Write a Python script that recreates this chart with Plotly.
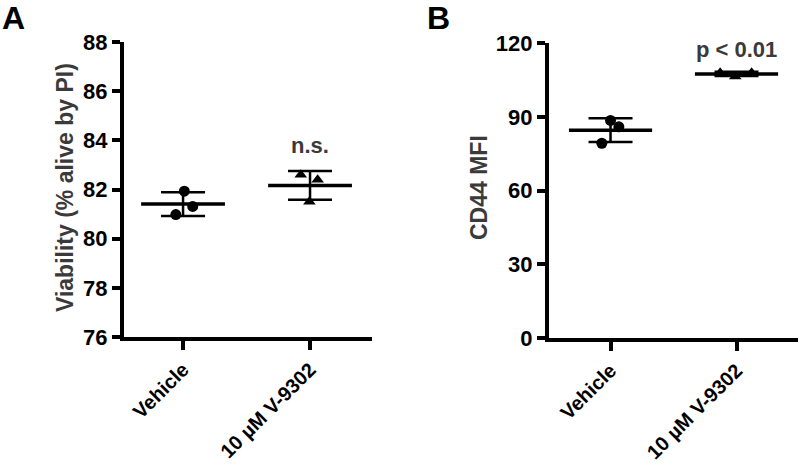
import numpy as np
import plotly.graph_objects as go

categories = ["Vehicle", "10 µM V-9302"]

# Panel A: viability (% alive by PI)
viab_vehicle = [81.93, 81.31, 80.98]
viab_v9302 = [82.60, 82.40, 81.50]

# Panel B: CD44 MFI
cd44_vehicle = [88.6, 86.0, 79.3]
cd44_v9302 = [108.0, 106.5, 108.0]

yticks_a = [76, 78, 80, 82, 84, 86, 88]
yticks_b = [0, 30, 60, 90, 120]

# horizontal jitter of replicate points (category units)
jit_a = [[0.01, 0.076, -0.057], [-0.073, 0.06, -0.005]]
jit_b = [[0.0, 0.066, -0.069], [-0.13, -0.01, 0.12]]

symbols = ["circle", "triangle-up"]
fig = go.Figure()


def add_panel(groups, jit, xa, ya):
    for i, vals in enumerate(groups):
        vals = np.array(vals)
        m = vals.mean()
        sd = vals.std(ddof=1)
        # mean line
        fig.add_trace(go.Scatter(x=[i - 0.33, i + 0.33], y=[m, m], mode="lines",
                                 line=dict(color="black", width=3.5),
                                 xaxis=xa, yaxis=ya, showlegend=False, hoverinfo="skip"))
        # SD error bar
        fig.add_trace(go.Scatter(x=[i], y=[m], mode="markers",
                                 marker=dict(size=1, color="rgba(0,0,0,0)"),
                                 error_y=dict(type="data", array=[sd], visible=True,
                                              color="black", thickness=2.5, width=22),
                                 xaxis=xa, yaxis=ya, showlegend=False, hoverinfo="skip"))
        # replicate points
        fig.add_trace(go.Scatter(x=[i + j for j in jit[i]], y=vals, mode="markers",
                                 marker=dict(symbol=symbols[i], size=11, color="black"),
                                 xaxis=xa, yaxis=ya, showlegend=False))


add_panel([viab_vehicle, viab_v9302], jit_a, "x", "y")
add_panel([cd44_vehicle, cd44_v9302], jit_b, "x2", "y2")

FONT = "Liberation Sans, Arial, sans-serif"
tickfont = dict(family=FONT, size=22, color="black", weight="bold")
xtickfont = dict(family=FONT, size=20, color="black", weight="bold")
xcommon = dict(tickmode="array", tickvals=[0, 1], ticktext=categories, tickangle=-45,
               showline=True, linecolor="black", linewidth=4, ticks="outside",
               ticklen=9, tickwidth=4, tickcolor="black", showgrid=False, zeroline=False,
               tickfont=xtickfont, automargin=False)
ycommon = dict(showline=True, linecolor="black", linewidth=4, ticks="outside",
               ticklen=8, tickwidth=4, tickcolor="black", showgrid=False, zeroline=False,
               tickfont=tickfont, tickmode="array", automargin=False)

fig.update_layout(
    width=800, height=464,
    margin=dict(l=0, r=0, t=0, b=0, pad=0, autoexpand=False),
    paper_bgcolor="white", plot_bgcolor="white",
    font=dict(family=FONT),
    xaxis=dict(domain=[0.155, 0.465], range=[-0.465, 1.488], anchor="y", **xcommon),
    yaxis=dict(domain=[0.2737, 0.9095], range=[76, 88], anchor="x", tickvals=yticks_a,
               ticktext=[str(v) for v in yticks_a], **ycommon),
    xaxis2=dict(domain=[0.686, 0.9975], range=[-0.49, 1.488], anchor="y2", **xcommon),
    yaxis2=dict(domain=[0.2716, 0.9067], range=[0, 120], anchor="x2", tickvals=yticks_b,
                ticktext=[str(v) for v in yticks_b], **ycommon),
)

gray = "#3a3a3a"
ann = [
    dict(text="<b>A</b>", x=0.0, y=1.005, xref="paper", yref="paper", xanchor="left",
         yanchor="top", showarrow=False, font=dict(size=32, color="black")),
    dict(text="<b>B</b>", x=425 / 800, y=1.005, xref="paper", yref="paper", xanchor="left",
         yanchor="top", showarrow=False, font=dict(size=32, color="black")),
    dict(text="<b>Viability (% alive by PI)</b>", x=65 / 800, y=1 - 188 / 464, xref="paper",
         yref="paper", textangle=-90, showarrow=False, xanchor="center", yanchor="middle",
         font=dict(size=23, color=gray)),
    dict(text="<b>CD44 MFI</b>", x=479 / 800, y=1 - 188 / 464, xref="paper",
         yref="paper", textangle=-90, showarrow=False, xanchor="center", yanchor="middle",
         font=dict(size=23, color=gray)),
    dict(text="<b>n.s.</b>", x=1, y=83.8, xref="x", yref="y", showarrow=False,
         font=dict(size=22, color=gray)),
    dict(text="<b>p < 0.01</b>", x=1, y=117.3, xref="x2", yref="y2", showarrow=False,
         font=dict(size=22, color=gray)),
]
fig.update_layout(annotations=ann)

fig.write_html("out.html", config={"displayModeBar": False},
               post_script="document.body.style.margin='0';")
